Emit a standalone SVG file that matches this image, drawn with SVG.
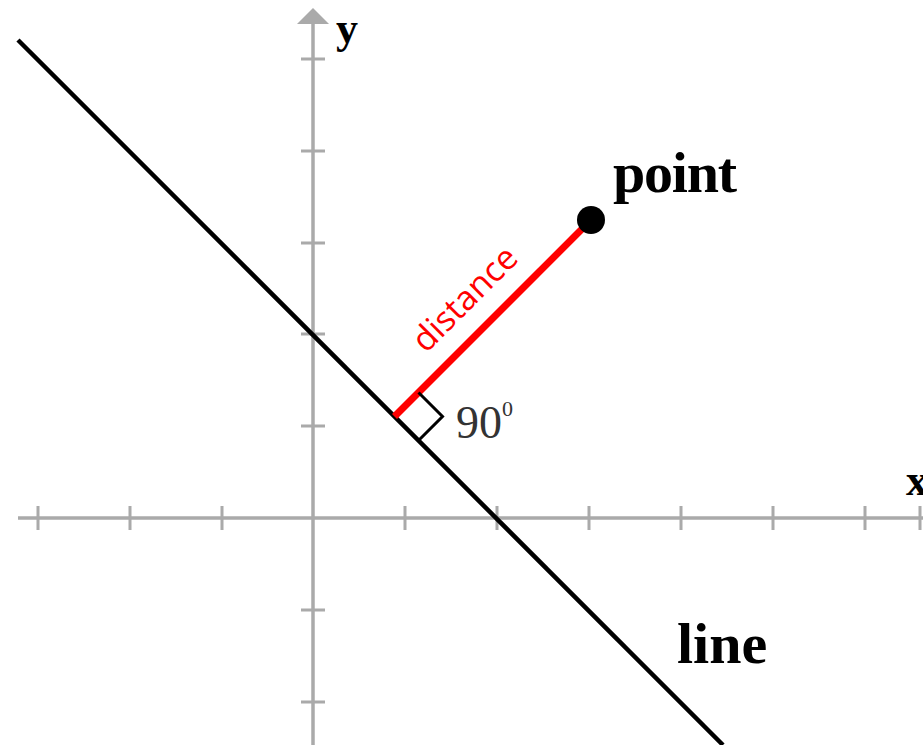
<svg xmlns="http://www.w3.org/2000/svg" width="923" height="745" viewBox="0 0 923 745">
<style>
.ax{stroke:#aaaaaa;stroke-width:3.5;fill:none}
.tk{stroke:#aaaaaa;stroke-width:3;fill:none}
.lbl{font-family:"Liberation Serif",serif;font-weight:bold;fill:#000}
</style>
<rect width="923" height="745" fill="#fff"/>
<g id="axes">
<line class="ax" x1="18" y1="518" x2="923" y2="518"/>
<line class="ax" x1="313" y1="20" x2="313" y2="745"/>
<polygon points="313,8 329,24 297,24" fill="#aaaaaa"/>
<path class="tk" d="M38,506V530M130,506V530M222,506V530M405,506V530M497,506V530M589,506V530M681,506V530M773,506V530M865,506V530M920,506V530"/>
<path class="tk" d="M301,59H325M301,151H325M301,243H325M301,334H325M301,426H325M301,610H325M301,702H325"/>
<text class="lbl" x="336" y="43" font-size="44">y</text>
<text class="lbl" x="906" y="495" font-size="44">x</text>
</g>
<g id="line">
<line x1="18" y1="40" x2="723" y2="745" stroke="#000" stroke-width="4.5"/>
<text class="lbl" x="677" y="663" font-size="58">line</text>
</g>
<g id="connectors">
<line x1="394.5" y1="416.5" x2="591" y2="220" stroke="#ff0000" stroke-width="7"/>
<text transform="translate(473,307) rotate(-45)" text-anchor="middle" font-family="'Open Sans',sans-serif" font-size="34" fill="#ff0000">distance</text>
<polyline points="418.5,392.5 442.5,416.5 418.5,440.5" fill="none" stroke="#000" stroke-width="3"/>
<text x="456" y="438" font-family="'Liberation Serif',serif" font-size="46" fill="#333">90<tspan font-size="22" dy="-22">0</tspan></text>
</g>
<g id="point">
<circle cx="591" cy="220" r="14" fill="#000"/>
<text class="lbl" x="613" y="192" font-size="58" textLength="124">point</text>
</g>
</svg>
